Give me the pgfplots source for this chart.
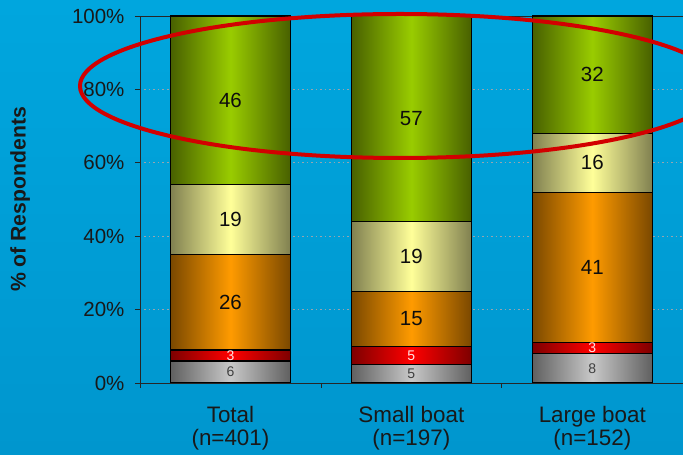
\documentclass[border=0pt]{standalone}
\usepackage{pgfplots}
\usepackage{pgfplotstable}
\pgfplotsset{compat=1.18}
\usepackage{fontspec}
\setmainfont{Liberation Sans}
\definecolor{bgtop}{RGB}{0,166,222}
\definecolor{bgbot}{RGB}{0,150,206}
\definecolor{gD}{RGB}{72,96,0}
\definecolor{gL}{RGB}{153,204,0}
\definecolor{yD}{RGB}{128,128,80}
\definecolor{yL}{RGB}{255,255,153}
\definecolor{oD}{RGB}{122,72,0}
\definecolor{oL}{RGB}{255,155,0}
\definecolor{rD}{RGB}{125,0,0}
\definecolor{rL}{RGB}{255,0,0}
\definecolor{sD}{RGB}{96,96,96}
\definecolor{sL}{RGB}{200,200,200}
\definecolor{ellred}{RGB}{210,0,0}
\definecolor{gridc}{RGB}{150,165,175}

% one table per bar (group): segment percentages from bottom to top
\pgfplotstableread{
x gray red orange yellow green
0 6 3 26 19 46
}\totalbar
\pgfplotstableread{
x gray red orange yellow green
1 5 5 15 19 57
}\smallbar
\pgfplotstableread{
x gray red orange yellow green
2 8 3 41 16 32
}\largebar

% value labels at the middle of each segment
\pgfplotstableread{
x y lab
0 77 46
0 44.5 19
0 22 26
1 72 57
1 34.5 19
1 17.5 15
2 84 32
2 60 16
2 31.5 41
}\biglabels
\pgfplotstableread{
x y lab
0 7.5 3
1 7.5 5
2 9.5 3
}\redlabels
\pgfplotstableread{
x y lab
0 3 6
1 2.5 5
2 4 8
}\graylabels

\newcommand\fs{\fontsize{20.5}{23}\selectfont}
\newcommand\fsc{\fontsize{22.4}{23}\selectfont}
\newcommand\fsy{\fontsize{21.2}{23}\selectfont}
\newcommand\fss{\fontsize{14}{16}\selectfont}

\pgfplotsset{base/.style={
  scale only axis, width=550pt, height=367pt,
  xmin=-0.5, xmax=2.54, ymin=0, ymax=100,
  anchor=south west, at={(140pt,72pt)},
},
barax/.style={base, hide axis, ybar stacked, bar width=120pt},
seg/.style 2 args={draw=black, line width=1.2pt, left color=#1, right color=#1, middle color=#2},
}
\newcommand\stackbar[1]{%
\addplot[seg={sD}{sL}] table[x=x,y=gray]{#1};
\addplot[seg={rD}{rL}] table[x=x,y=red]{#1};
\addplot[seg={oD}{oL}] table[x=x,y=orange]{#1};
\addplot[seg={yD}{yL}] table[x=x,y=yellow]{#1};
\addplot[seg={gD}{gL}] table[x=x,y=green]{#1};
}

\begin{document}
\begin{tikzpicture}[x=1pt,y=1pt]
\useasboundingbox (0,0) rectangle (683,455);
\shade[top color=bgtop, bottom color=bgbot] (0,0) rectangle (683,455);
\clip (0,0) rectangle (683,455);
\begin{axis}[base,
  axis line style={black!85, line width=0.8pt},
  tick style={black!85, line width=0.8pt},
  tick align=outside, tick pos=left, major tick length=5pt,
  ytick={0,20,40,60,80,100},
  yticklabels={0\%,20\%,40\%,60\%,80\%,100\%},
  yticklabel style={font=\fs, text=black!90, xshift=-7pt},
  xtick={-0.5,0.5,1.5},
  xticklabels={},
  extra x ticks={0,1,2},
  extra x tick labels={{Total\\(n=401)},{Small boat\\(n=197)},{Large boat\\(n=152)}},
  extra x tick style={major tick length=0pt, grid=none, xticklabel style={align=center, font=\fsc, text=black!90, yshift=-20pt}},
  ymajorgrids,
  grid style={gridc, line width=0.9pt, dash pattern=on 1.5pt off 3pt},
  ylabel={\% of Respondents},
  ylabel style={font=\fsy\bfseries, text=black!90, at={(axis description cs:-0.218,0.5)}, anchor=center},
]
\addplot[draw=none, mark=none, forget plot] coordinates {(0,0)};
\end{axis}
\begin{axis}[barax]
\stackbar{\totalbar}
\end{axis}
\begin{axis}[barax]
\stackbar{\smallbar}
\end{axis}
\begin{axis}[barax]
\stackbar{\largebar}
\end{axis}
\begin{axis}[base, hide axis]
\addplot[draw=none, mark=none, nodes near coords, point meta=explicit symbolic,
  every node near coord/.append style={font=\fs, text=black!95, anchor=center}]
  table[x=x,y=y,meta=lab]{\biglabels};
\addplot[draw=none, mark=none, nodes near coords, point meta=explicit symbolic,
  every node near coord/.append style={font=\fss, text=white!90!red, anchor=center}]
  table[x=x,y=y,meta=lab]{\redlabels};
\addplot[draw=none, mark=none, nodes near coords, point meta=explicit symbolic,
  every node near coord/.append style={font=\fss, text=black!75, anchor=center}]
  table[x=x,y=y,meta=lab]{\graylabels};
\end{axis}
\draw[ellred, line width=4pt] (400,369) ellipse [x radius=320, y radius=72];
\end{tikzpicture}
\end{document}
